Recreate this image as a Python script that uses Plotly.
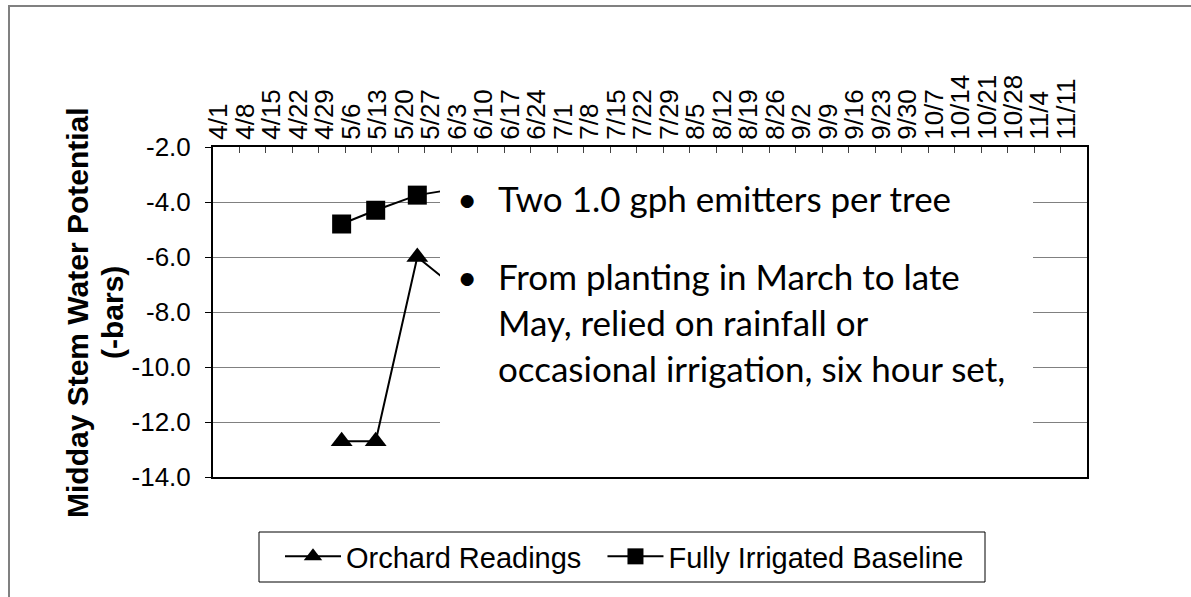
import plotly.graph_objects as go

# ---- data ----
week_labels = ["4/1", "4/8", "4/15", "4/22", "4/29", "5/6", "5/13", "5/20", "5/27",
               "6/3", "6/10", "6/17", "6/24", "7/1", "7/8", "7/15", "7/22", "7/29",
               "8/5", "8/12", "8/19", "8/26", "9/2", "9/9", "9/16", "9/23", "9/30",
               "10/7", "10/14", "10/21", "10/28", "11/4", "11/11"]
YEAR = 2011
week_dates = [f"{YEAR}-{int(l.split('/')[0]):02d}-{int(l.split('/')[1]):02d}" for l in week_labels]

y_ticks = [-14, -12, -10, -8, -6, -4, -2]
y_tick_text = [f"{v:.1f}" for v in y_ticks]  # plain hyphen minus

reading_dates = ["2011-05-05", "2011-05-14", "2011-05-25", "2011-06-03"]
orchard_readings = [-12.7, -12.7, -6.0, -7.0]
baseline_readings = [-4.8, -4.3, -3.75, -3.55]

series_names = ["Orchard Readings", "Fully Irrigated Baseline"]

bullet_1 = "Two 1.0 gph emitters per tree"
bullet_2_lines = ["From planting in March to late",
                  "May, relied on rainfall or",
                  "occasional irrigation, six hour set,"]

# ---- layout constants ----
W, H = 1191, 597
L, R, T, B = 213, 1087, 147, 477
pw, ph = R - L, B - T

def px(xp):
    return (xp - L) / pw

def py(yp):
    return (B - yp) / ph

NBSP = "\u00a0"
fig = go.Figure()
fig.add_trace(go.Scatter(
    x=reading_dates, y=orchard_readings, name=series_names[0] + NBSP * 2,
    mode="lines+markers", line=dict(color="black", width=2),
    marker=dict(symbol="triangle-up", size=19, color="black")))
fig.add_trace(go.Scatter(
    x=reading_dates, y=baseline_readings, name=series_names[1],
    mode="lines+markers", line=dict(color="black", width=2),
    marker=dict(symbol="square", size=19, color="black")))

AX_FONT = dict(family="Liberation Sans, Arial, sans-serif", size=26, color="black")

fig.update_layout(
    width=W, height=H,
    margin=dict(l=L, r=W - R, t=T, b=H - B),
    paper_bgcolor="white", plot_bgcolor="white",
    showlegend=True,
    legend=dict(orientation="h", x=px(280), y=py(531), xanchor="left", yanchor="top",
                borderwidth=0, bgcolor="rgba(0,0,0,0)",
                font=dict(family="Liberation Sans, Arial, sans-serif", size=29, color="black"),
                itemwidth=56, itemsizing="trace"),
    xaxis=dict(type="date", side="top",
               range=["2011-04-01", "2011-11-18"],
               tickmode="array", tickvals=week_dates, ticktext=week_labels,
               tickangle=-90, ticks="inside", ticklen=6, tickcolor="#444", tickwidth=1,
               ticklabelshift=6, ticklabelstandoff=0,
               tickfont=AX_FONT,
               showline=True, linecolor="black", linewidth=2, mirror=True,
               showgrid=False, zeroline=False),
    yaxis=dict(range=[-14, -2], tickmode="array", tickvals=y_ticks, ticktext=y_tick_text,
               ticks="outside", ticklen=6, tickcolor="black", tickwidth=1,
               ticklabelstandoff=9,
               tickfont=AX_FONT,
               showline=True, linecolor="black", linewidth=2, mirror=True,
               showgrid=True, gridcolor="#808080", gridwidth=1, zeroline=False),
)

# white text box covering part of the plot
fig.add_shape(type="rect", xref="paper", yref="paper",
              x0=px(440), x1=px(1033), y0=py(475), y1=py(155),
              fillcolor="white", line=dict(width=0), layer="above")

# legend frame
fig.add_shape(type="rect", xref="paper", yref="paper",
              x0=px(259), x1=px(985), y0=py(582), y1=py(532),
              fillcolor="rgba(0,0,0,0)", line=dict(color="black", width=1), layer="above")

# outer chart frame
fig.add_shape(type="rect", xref="paper", yref="paper",
              x0=px(9), x1=px(1250), y0=py(650), y1=py(6),
              fillcolor="rgba(0,0,0,0)", line=dict(color="#808080", width=2), layer="above")

# y-axis title (two lines)
TITLE_FONT = dict(family="Liberation Sans, Arial, sans-serif", size=30, color="black")
fig.add_annotation(xref="paper", yref="paper", x=px(77), y=py(313),
                   text="<b>Midday Stem Water Potential</b>", textangle=-90,
                   showarrow=False, xanchor="center", yanchor="middle", font=TITLE_FONT)
fig.add_annotation(xref="paper", yref="paper", x=px(112), y=py(313),
                   text="<b>(-bars)</b>", textangle=-90,
                   showarrow=False, xanchor="center", yanchor="middle", font=TITLE_FONT)

# bullet text
BOX_FONT = dict(family="Lato, 'Open Sans', sans-serif", size=35, color="black")
fig.add_annotation(xref="paper", yref="paper", x=px(467), y=py(198), text="•",
                   showarrow=False, xanchor="center", yanchor="middle", font=BOX_FONT)
fig.add_annotation(xref="paper", yref="paper", x=px(496), y=py(198), text=bullet_1,
                   showarrow=False, xanchor="left", yanchor="middle", font=BOX_FONT)
fig.add_annotation(xref="paper", yref="paper", x=px(467), y=py(276), text="•",
                   showarrow=False, xanchor="center", yanchor="middle", font=BOX_FONT)
for i, line in enumerate(bullet_2_lines):
    fig.add_annotation(xref="paper", yref="paper", x=px(496), y=py(276 + 46 * i), text=line,
                       showarrow=False, xanchor="left", yanchor="middle", font=BOX_FONT)

fig.write_html("out.html", config={"displayModeBar": False},
               post_script="document.body.style.margin='0';")
